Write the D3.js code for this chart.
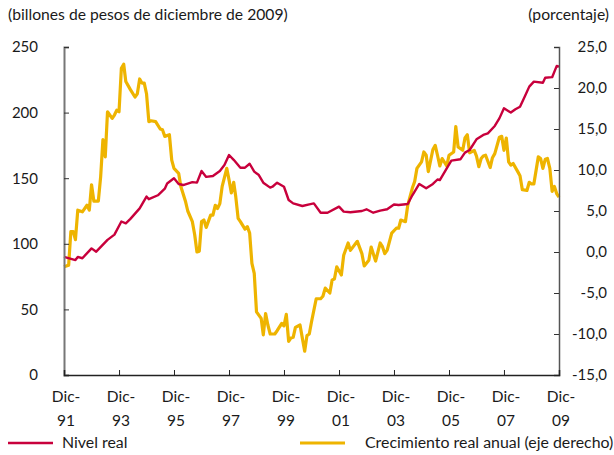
<!doctype html>
<html>
<head>
	<script src="https://d3js.org/d3.v7.min.js"></script>
	<style>
		body { margin: 0; background: #fff; }
		text { font-family: Lato, "Open Sans", sans-serif; fill: #1a1a1a; }
	</style>
</head>
<body>
	<div id="viz">
		<svg style="width:614px;height:455px;"></svg>
	</div>
	<script>
		// meses contados desde dic-91 y valores
		var mesesNivel = [0, 5, 6, 8, 12, 14, 19, 22, 25, 27, 29, 33, 36, 37, 41, 44, 45, 48, 50, 52,
			56, 58, 60, 62, 65, 68, 70, 72, 74, 77, 79, 81, 83, 85, 87, 90, 91, 93, 96, 98,
			100, 104, 107, 109, 112, 115, 120, 122, 125, 130, 132, 135, 138, 141, 144, 146, 150, 152, 155, 158,
			161, 163, 164, 167, 169, 173, 175, 177, 180, 183, 185, 188, 190, 192, 195, 197, 199, 201, 203, 205,
			209, 210, 213, 215, 216];
		var nivelReal = [90, 87.6, 90, 89, 96.5, 94, 103, 107, 117, 115.6, 119, 127, 136, 134, 137, 142, 146, 150, 145.6, 144.8,
			147, 146.6, 155.5, 151, 151.7, 155.5, 160, 167.7, 164, 158, 158, 161, 155, 152.4, 146.6, 142.8, 143.5, 146.6, 143.5, 133.4,
			130.8, 128.8, 130, 130.8, 123.7, 123.7, 128.3, 124.5, 124, 125, 126.3, 123.7, 125.3, 126.3, 130, 129.6, 130.3, 137, 145.6, 142.3,
			145.6, 149, 148.6, 157.5, 163.4, 164.4, 169.5, 171.5, 179.6, 183, 184.2, 189.8, 195.6, 203.3, 200, 202.5, 204.5, 212, 219.8, 223.6,
			222.8, 226.6, 227, 235.6, 235];

		var mesesCrec = [0, 1, 2, 3, 4, 5, 6, 8, 10, 11, 12, 13, 15, 16, 17, 18, 19, 21, 22, 23,
			24, 25, 26, 27, 29, 31, 32, 33, 34, 35, 36, 37, 38, 40, 42, 43, 44, 46, 47, 48,
			50, 51, 53, 54, 56, 57, 58, 59, 60, 61, 62, 64, 65, 66, 67, 68, 69, 71, 72, 73,
			74, 75, 76, 77, 79, 80, 81, 82, 83, 84, 86, 87, 88, 89, 90, 92, 93, 95, 96, 97,
			98, 99, 100, 101, 103, 104, 105, 106, 107, 108, 110, 112, 113, 114, 116, 117, 118, 119, 121, 122,
			124, 125, 128, 130, 131, 133, 134, 135, 136, 138, 139, 140, 141, 143, 145, 146, 147, 149, 150, 152,
			153, 154, 156, 157, 158, 159, 161, 162, 163, 164, 165, 167, 168, 170, 171, 172, 174, 175, 176, 177,
			179, 180, 181, 182, 183, 184, 186, 187, 188, 190, 191, 192, 193, 194, 195, 196, 198, 199, 200, 202,
			203, 204, 205, 207, 208, 209, 210, 211, 212, 213, 214, 215, 216];
		var crecimientoReal = [-1.8, -1.7, -1.6, 2.5, 2.5, 1.5, 5.1, 4.9, 5.7, 5.1, 8.2, 6.2, 6.2, 9.2, 13.7, 11.6, 17.1, 16.3, 16.7, 17.3,
			17.1, 22.4, 22.9, 20.8, 19.8, 18.9, 19.3, 21.1, 20.6, 20.6, 19.3, 15.9, 16, 15.9, 15, 14.9, 14.1, 14.3, 11.2, 10.2,
			9.6, 8, 6.2, 5, 3.7, 2.1, 0, 0.1, 3.7, 3.9, 3, 4.5, 4.5, 5.7, 5.3, 5.9, 8, 10.2, 8.8, 7.2,
			8.5, 6.7, 4.1, 3.7, 2.8, 3.1, 2.3, -1.4, -2.6, -7.3, -8.1, -10.1, -7.5, -8.9, -10, -10, -9.6, -8.7, -9, -7.6,
			-10.9, -10.5, -10.4, -9.2, -8.9, -10.5, -12.1, -10.2, -10, -8.5, -5.7, -5.7, -5.4, -4.4, -5, -3.4, -3.3, -1.8, -2.8, -0.4,
			1.1, 0.2, 1.3, -0.2, -1.7, -1, 0.6, -0.2, -1.1, 1.1, 0.65, -0.2, 0.2, 2.3, 2.9, 2.9, 3.9, 3.7, 5.7, 7.8,
			8.6, 10.2, 11, 12.2, 11.8, 9.8, 12.5, 13, 11.8, 10.5, 11.4, 10.5, 11.8, 12.2, 15.3, 12.8, 12.4, 13.9, 14.3, 12.1,
			12.4, 11.7, 10.4, 11.4, 11.7, 11.8, 10.3, 11.5, 12, 14, 14.1, 12.4, 13.9, 11, 10.6, 10.8, 9.8, 9.3, 7.6, 7.5,
			8.5, 8.3, 8.3, 11.6, 11.4, 10.2, 11.3, 11.4, 10.2, 7.4, 8, 7.1, 6.7];

		var ticksIzq = [0, 50, 100, 150, 200, 250];
		var ticksDer = [-15, -10, -5, 0, 5, 10, 15, 20, 25];
		var ticksX = [0, 24, 48, 72, 96, 120, 144, 168, 192, 216];
		var etiquetasX = ["91", "93", "95", "97", "99", "01", "03", "05", "07", "09"];

		dataViz()
		function dataViz() {
			var margin = {top: 47, right: 55, bottom: 80, left: 64};
			var width = 614 - margin.left - margin.right;
			var height = 455 - margin.top - margin.bottom;
			var inicio = new Date(1991, 11, 1);
			var mes = function(m) { return d3.timeMonth.offset(inicio, m); };

			var xScale = d3.scaleTime()
				.domain([mes(0), mes(216)])
				.range([margin.left, margin.left + width]);
			var yIzq = d3.scaleLinear()
				.domain([0, 250])
				.range([margin.top + height, margin.top]);
			var yDer = d3.scaleLinear()
				.domain([-15, 25])
				.range([margin.top + height, margin.top]);

			var fmt = d3.format(".1f");
			var coma = function(v) { return fmt(v).replace(".", ",").replace("−", "-"); };

			var svg = d3.select("svg");

			svg.append("text").attr("x", 8).attr("y", 20)
				.style("font-size", "15.7px")
				.text("(billones de pesos de diciembre de 2009)");
			svg.append("text").attr("x", 609).attr("y", 20)
				.attr("text-anchor", "end")
				.style("font-size", "15.7px")
				.text("(porcentaje)");

			// lineas
			var nivel = mesesNivel.map((m, i) => ({fecha: mes(m), v: nivelReal[i]}));
			var crec = mesesCrec.map((m, i) => ({fecha: mes(m), v: crecimientoReal[i]}));

			svg.append("path").datum(crec)
				.attr("fill", "none")
				.attr("stroke", "#EEB400")
				.attr("stroke-width", 3.2)
				.attr("stroke-linejoin", "round")
				.attr("d", d3.line().x(d => xScale(d.fecha)).y(d => yDer(d.v)));

			svg.append("path").datum(nivel)
				.attr("fill", "none")
				.attr("stroke", "#C8003C")
				.attr("stroke-width", 2.4)
				.attr("stroke-linejoin", "round")
				.attr("d", d3.line().x(d => xScale(d.fecha)).y(d => yIzq(d.v)));

			// ejes
			var yAxisIzq = d3.axisRight(yIzq).tickValues(ticksIzq).tickSize(5).tickFormat(d3.format("d"));
			var gIzq = svg.append("g")
				.attr("transform", "translate(" + margin.left + ",0)")
				.call(yAxisIzq);
			gIzq.select(".domain").attr("stroke", "#777").attr("stroke-width", 2);
			gIzq.selectAll(".tick line").attr("stroke", "#333");
			gIzq.selectAll(".tick text").attr("x", -26).attr("text-anchor", "end")
				.style("font-size", "15px");

			var yAxisDer = d3.axisLeft(yDer).tickValues(ticksDer).tickSize(5).tickFormat(coma);
			var gDer = svg.append("g")
				.attr("transform", "translate(" + (margin.left + width) + ",0)")
				.call(yAxisDer);
			gDer.select(".domain").attr("stroke", "#555").attr("stroke-width", 1.5);
			gDer.selectAll(".tick line").attr("stroke", "#333");
			gDer.selectAll(".tick text").attr("x", 48).attr("text-anchor", "end")
				.style("font-size", "15px");

			var xAxis = d3.axisTop(xScale).tickValues(ticksX.map(mes)).tickSize(5).tickFormat("");
			var gX = svg.append("g")
				.attr("transform", "translate(0," + (margin.top + height) + ")")
				.call(xAxis);
			gX.select(".domain").attr("stroke", "#222").attr("stroke-width", 1.5);
			gX.selectAll(".tick line").attr("stroke", "#222");

			var etq = svg.append("g").selectAll("g")
				.data(ticksX)
				.enter().append("g")
				.attr("transform", d => "translate(" + (xScale(mes(d)) + 2) + "," + (margin.top + height) + ")");
			etq.append("text").attr("y", 27).attr("text-anchor", "middle")
				.style("font-size", "15.5px").text("Dic-");
			etq.append("text").attr("y", 51).attr("text-anchor", "middle")
				.style("font-size", "15.5px").text((d, i) => etiquetasX[i]);

			// leyenda
			var leyenda = [
				{x: 8, color: "#C8003C", w: 2.4, texto: "Nivel real"},
				{x: 300, color: "#EEB400", w: 3.2, texto: "Crecimiento real anual (eje derecho)"}
			];
			var lg = svg.append("g").selectAll("g")
				.data(leyenda)
				.enter().append("g")
				.attr("transform", d => "translate(" + d.x + ",443)");
			lg.append("line").attr("x1", 0).attr("x2", 45)
				.attr("stroke", d => d.color).attr("stroke-width", d => d.w);
			lg.append("text").attr("x", d => d.x < 100 ? 54 : 65).attr("y", 5)
				.style("font-size", "15.9px").text(d => d.texto);
		}
	</script>
</body>
</html>
